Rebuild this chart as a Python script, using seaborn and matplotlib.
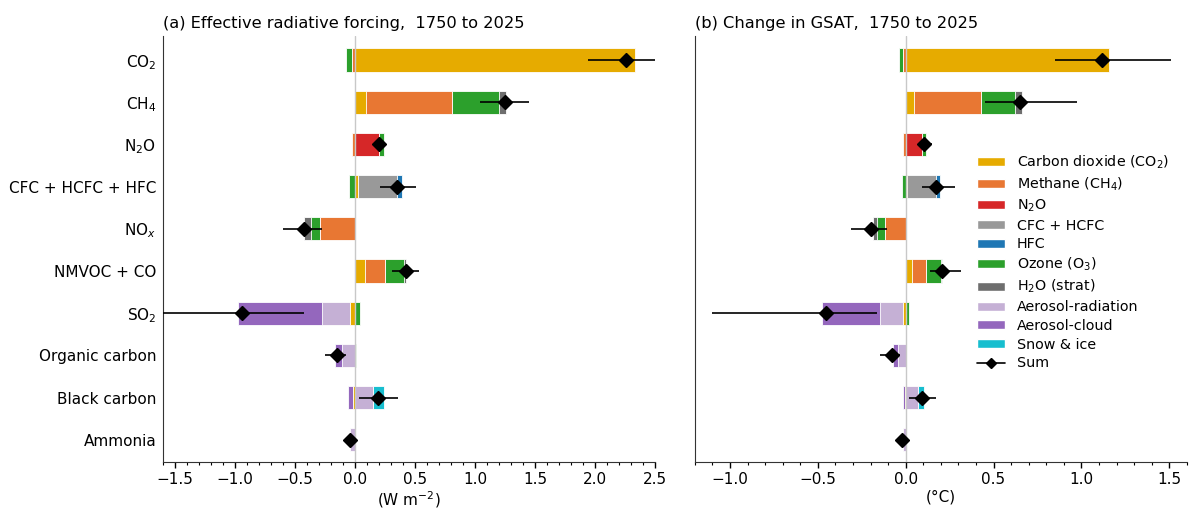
import matplotlib
matplotlib.use("Agg")
import matplotlib.pyplot as plt
import seaborn as sns
import numpy as np
import pandas as pd
from matplotlib.patches import Patch
from matplotlib.lines import Line2D
from matplotlib.ticker import MultipleLocator

# emitted species (rows, top to bottom)
species = ['CO$_2$', 'CH$_4$', 'N$_2$O', 'CFC + HCFC + HFC', 'NO$_x$',
           'NMVOC + CO', 'SO$_2$', 'Organic carbon', 'Black carbon', 'Ammonia']

# component names and colours (stacking order from zero outwards)
components = ['Carbon dioxide (CO$_2$)', 'Methane (CH$_4$)', 'N$_2$O', 'CFC + HCFC',
              'HFC', 'Ozone (O$_3$)', 'H$_2$O (strat)', 'Aerosol-radiation',
              'Aerosol-cloud', 'Snow & ice']
colors = ['#e6ab00', '#e87733', '#d62728', '#999999', '#1f77b4',
          '#2ca02c', '#6e6e6e', '#c5b0d5', '#9467bd', '#17becf']

# (a) effective radiative forcing, W m-2, per component
erf_co2 = [2.33, 0.09, 0.0, 0.02, 0.0, 0.08, -0.04, 0.0, -0.02, 0.0]
erf_ch4 = [-0.03, 0.72, -0.03, 0.0, -0.29, 0.17, 0.0, 0.0, 0.0, 0.0]
erf_n2o = [0.0, 0.0, 0.20, 0.0, 0.0, 0.0, 0.0, 0.0, 0.0, 0.0]
erf_cfc = [0.0, 0.0, 0.0, 0.33, 0.0, 0.0, 0.0, 0.0, 0.0, 0.0]
erf_hfc = [0.0, 0.0, 0.0, 0.04, 0.0, 0.0, 0.0, 0.0, 0.0, 0.0]
erf_o3 = [-0.05, 0.39, 0.04, -0.05, -0.08, 0.16, 0.04, 0.01, 0.0, 0.0]
erf_h2o = [0.0, 0.06, 0.0, 0.0, -0.06, 0.01, 0.0, 0.0, 0.0, 0.0]
erf_ari = [0.0, 0.0, 0.0, 0.0, 0.0, 0.0, -0.24, -0.11, 0.15, -0.04]
erf_aci = [0.0, 0.0, 0.0, 0.0, 0.0, 0.0, -0.70, -0.06, -0.04, 0.0]
erf_snow = [0.0, 0.0, 0.0, 0.0, 0.0, 0.0, 0.0, 0.0, 0.09, 0.0]
erf_sum = [2.26, 1.25, 0.20, 0.35, -0.43, 0.42, -0.94, -0.15, 0.19, -0.04]
erf_lo = [1.94, 1.04, 0.17, 0.21, -0.60, 0.31, -1.70, -0.25, 0.03, -0.06]
erf_hi = [2.55, 1.45, 0.24, 0.51, -0.28, 0.53, -0.43, -0.08, 0.36, -0.02]

# (b) change in GSAT, degC, per component
gsat_co2 = [1.155, 0.045, 0.0, 0.008, 0.0, 0.038, -0.017, 0.0, -0.005, 0.0]
gsat_ch4 = [-0.015, 0.383, -0.015, 0.0, -0.117, 0.079, 0.0, 0.0, 0.0, 0.0]
gsat_n2o = [0.0, 0.0, 0.095, 0.0, 0.0, 0.0, 0.0, 0.0, 0.0, 0.0]
gsat_cfc = [0.0, 0.0, 0.0, 0.162, 0.0, 0.0, 0.0, 0.0, 0.0, 0.0]
gsat_hfc = [0.0, 0.0, 0.0, 0.025, 0.0, 0.0, 0.0, 0.0, 0.0, 0.0]
gsat_o3 = [-0.023, 0.193, 0.022, -0.023, -0.046, 0.086, 0.02, 0.003, 0.0, 0.0]
gsat_h2o = [0.0, 0.040, 0.0, 0.0, -0.025, 0.006, 0.0, 0.0, 0.0, 0.0]
gsat_ari = [0.0, 0.0, 0.0, 0.0, 0.0, 0.0, -0.13, -0.045, 0.068, -0.016]
gsat_aci = [0.0, 0.0, 0.0, 0.0, 0.0, 0.0, -0.33, -0.027, -0.01, 0.0]
gsat_snow = [0.0, 0.0, 0.0, 0.0, 0.0, 0.0, 0.0, 0.0, 0.036, 0.0]
gsat_sum = [1.12, 0.653, 0.104, 0.174, -0.195, 0.208, -0.456, -0.078, 0.093, -0.021]
gsat_lo = [0.85, 0.45, 0.08, 0.093, -0.31, 0.136, -1.10, -0.148, 0.017, -0.03]
gsat_hi = [1.51, 0.975, 0.15, 0.28, -0.108, 0.316, -0.165, -0.03, 0.174, -0.012]

erf_parts = [erf_co2, erf_ch4, erf_n2o, erf_cfc, erf_hfc, erf_o3, erf_h2o,
             erf_ari, erf_aci, erf_snow]
gsat_parts = [gsat_co2, gsat_ch4, gsat_n2o, gsat_cfc, gsat_hfc, gsat_o3, gsat_h2o,
              gsat_ari, gsat_aci, gsat_snow]

sns.set_style('ticks')
plt.rcParams['font.family'] = ['DejaVu Sans']
plt.rcParams['font.size'] = 11
for key in ['text.color', 'axes.labelcolor', 'xtick.color', 'ytick.color']:
    plt.rcParams[key] = 'black'
plt.rcParams['axes.edgecolor'] = '#333333'


def stacked_panel(ax, parts, total, lo, hi):
    vals = np.array(parts)
    pos = np.cumsum(np.clip(vals, 0, None), axis=0)
    neg = np.cumsum(np.clip(vals, None, 0), axis=0)
    # draw cumulative bars outermost first so each segment shows its own colour
    for cum in (pos, neg):
        for k in range(len(components) - 1, -1, -1):
            df = pd.DataFrame({'species': species, 'value': cum[k]})
            sns.barplot(data=df, x='value', y='species', orient='h', color=colors[k],
                        saturation=1, width=0.55, errorbar=None, ax=ax,
                        edgecolor='white', linewidth=0.6, zorder=2)
    ax.axvline(0, color='#c8c8c8', lw=1.0, zorder=3)
    y = np.arange(len(species))
    err = [np.array(total) - np.array(lo), np.array(hi) - np.array(total)]
    ax.errorbar(total, y, xerr=err, fmt='D', color='black', ms=7, lw=1.2,
                capsize=0, zorder=4)
    ax.set_ylim(9.52, -0.57)
    ax.set_ylabel('')
    ax.tick_params(axis='y', length=0, pad=5, labelsize=11)
    ax.tick_params(axis='x', which='major', labelsize=11, length=4, width=1, pad=3)
    ax.tick_params(axis='x', which='minor', length=2.5, width=0.8)
    ax.xaxis.set_minor_locator(MultipleLocator(0.1))
    sns.despine(ax=ax)


fig = plt.figure(figsize=(12, 5.12), dpi=100)
ax1 = fig.add_axes([0.136, 0.098, 0.41, 0.832])
ax2 = fig.add_axes([0.579, 0.098, 0.41, 0.832])

stacked_panel(ax1, erf_parts, erf_sum, erf_lo, erf_hi)
ax1.set_xlim(-1.6, 2.5)
ax1.xaxis.set_major_locator(MultipleLocator(0.5))
ax1.set_xlabel('(W m$^{-2}$)', fontsize=11, labelpad=2)
ax1.set_title('(a) Effective radiative forcing,  1750 to 2025', loc='left', fontsize=11.7)

stacked_panel(ax2, gsat_parts, gsat_sum, gsat_lo, gsat_hi)
ax2.set_xlim(-1.2, 1.6)
ax2.xaxis.set_major_locator(MultipleLocator(0.5))
ax2.set_yticklabels([])
ax2.set_xlabel('(°C)', fontsize=11, labelpad=2)
ax2.set_title('(b) Change in GSAT,  1750 to 2025', loc='left', fontsize=11.7)

handles = [Patch(facecolor=c, label=l) for c, l in zip(colors, components)]
handles.append(Line2D([0], [0], color='black', marker='D', ms=5, lw=1.2, label='Sum'))
ax2.legend(handles=handles, loc='upper left', bbox_to_anchor=(0.562, 0.738),
           frameon=False, fontsize=10.3, handlelength=1.95, handleheight=0.6,
           handletextpad=0.85, labelspacing=0.33, borderaxespad=0)

fig.savefig('out.png', dpi=100)
